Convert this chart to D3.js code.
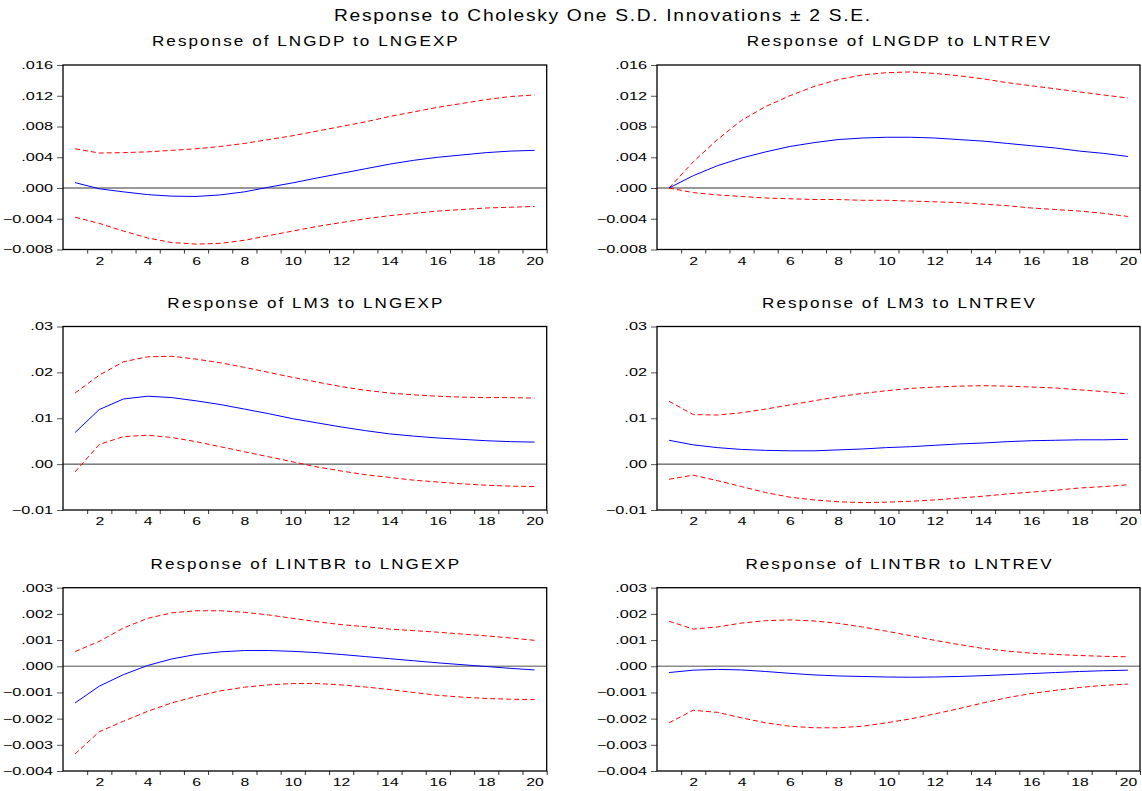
<!DOCTYPE html>
<html>
<head>
<meta charset="utf-8">
<script src="https://cdn.jsdelivr.net/npm/d3@7"></script>
<style>
  html, body { margin: 0; padding: 0; background: #fff; }
  svg { display: block; font-family: "Liberation Sans", Arial, sans-serif; }
</style>
</head>
<body>
<svg id="chart" width="1142" height="791"></svg>
<script>
// Impulse responses over 20 periods: response, and the +/- 2 S.E. bands
const periods = d3.range(1, 21);
const xTickLabels = [2, 4, 6, 8, 10, 12, 14, 16, 18, 20];

const gdpGexpResp = [0.0007, -0.0001, -0.0005, -0.00086, -0.00106, -0.0011, -0.0009, -0.0005, 0.0001, 0.00067,
  0.0013, 0.0019, 0.0025, 0.0031, 0.0036, 0.0040, 0.0043, 0.0046, 0.0048, 0.0049];
const gdpGexpUpper = [0.0051, 0.00455, 0.0046, 0.0047, 0.0049, 0.0051, 0.0054, 0.0058, 0.0063, 0.0068,
  0.0074, 0.0080, 0.0086, 0.0093, 0.0099, 0.0105, 0.0110, 0.0115, 0.0119, 0.0121];
const gdpGexpLower = [-0.0038, -0.0046, -0.0056, -0.0065, -0.0071, -0.0073, -0.0072, -0.0068, -0.0062, -0.0056,
  -0.0050, -0.0045, -0.0040, -0.0036, -0.0033, -0.0030, -0.0028, -0.0026, -0.0025, -0.0024];

const gdpTrevResp = [0.0, 0.0016, 0.0029, 0.0039, 0.0047, 0.0054, 0.0059, 0.0063, 0.0065, 0.0066,
  0.0066, 0.0065, 0.0063, 0.0061, 0.0058, 0.0055, 0.0052, 0.0048, 0.0045, 0.0041];
const gdpTrevUpper = [0.0, 0.0034, 0.0063, 0.0088, 0.0106, 0.0120, 0.0132, 0.0141, 0.0147, 0.0150,
  0.0151, 0.0149, 0.0146, 0.0142, 0.0137, 0.0133, 0.0129, 0.0125, 0.0121, 0.0117];
const gdpTrevLower = [0.0, -0.0006, -0.0009, -0.0011, -0.0013, -0.0014, -0.0015, -0.0015, -0.0016, -0.0016,
  -0.0017, -0.0018, -0.0019, -0.0021, -0.0023, -0.0026, -0.0028, -0.0030, -0.0033, -0.0037];

const m3GexpResp = [0.0069, 0.0119, 0.0142, 0.0148, 0.0145, 0.0138, 0.0130, 0.0120, 0.0110, 0.0099,
  0.0090, 0.0081, 0.0073, 0.0066, 0.0061, 0.0057, 0.0054, 0.0051, 0.0049, 0.0048];
const m3GexpUpper = [0.0155, 0.0194, 0.0223, 0.0234, 0.0235, 0.0229, 0.0221, 0.0211, 0.0200, 0.0189,
  0.0179, 0.0169, 0.0161, 0.0155, 0.0151, 0.0148, 0.0146, 0.0145, 0.0145, 0.0144];
const m3GexpLower = [-0.0017, 0.0043, 0.0060, 0.0063, 0.0058, 0.0049, 0.0038, 0.0027, 0.0016, 0.0005,
  -0.0006, -0.0015, -0.0023, -0.0029, -0.0035, -0.0039, -0.0043, -0.0046, -0.0048, -0.0049];

const m3TrevResp = [0.0052, 0.0042, 0.0036, 0.0032, 0.0030, 0.0029, 0.0029, 0.0031, 0.0033, 0.0036,
  0.0038, 0.0041, 0.0044, 0.0046, 0.0049, 0.0051, 0.0052, 0.0053, 0.0053, 0.0054];
const m3TrevUpper = [0.0137, 0.0108, 0.0107, 0.0112, 0.0120, 0.0129, 0.0138, 0.0147, 0.0154, 0.0160,
  0.0165, 0.0168, 0.0170, 0.0171, 0.0170, 0.0168, 0.0166, 0.0162, 0.0158, 0.0153];
const m3TrevLower = [-0.0033, -0.0024, -0.0036, -0.0049, -0.0062, -0.0072, -0.0078, -0.0082, -0.0084, -0.0083,
  -0.0081, -0.0078, -0.0074, -0.0070, -0.0065, -0.0061, -0.0057, -0.0052, -0.0049, -0.0045];

const intGexpResp = [-0.0014, -0.00076, -0.00032, 0.00003, 0.00028, 0.00045, 0.00055, 0.0006, 0.0006, 0.00057,
  0.00052, 0.00045, 0.00037, 0.00029, 0.00021, 0.00013, 0.00006, -0.00001, -0.00008, -0.00014];
const intGexpUpper = [0.00056, 0.00095, 0.00146, 0.00183, 0.00204, 0.00212, 0.00212, 0.00206, 0.00196, 0.00183,
  0.0017, 0.00159, 0.00151, 0.00142, 0.00136, 0.0013, 0.00123, 0.00116, 0.00108, 0.00099];
const intGexpLower = [-0.00335, -0.0025, -0.0021, -0.00172, -0.0014, -0.00115, -0.00094, -0.0008, -0.00071, -0.00066,
  -0.00066, -0.00071, -0.00079, -0.00089, -0.001, -0.00111, -0.00118, -0.00123, -0.00126, -0.00127];

const intTrevResp = [-0.00024, -0.00015, -0.00012, -0.00014, -0.0002, -0.00027, -0.00033, -0.00037, -0.00039, -0.00041,
  -0.00042, -0.00041, -0.00039, -0.00036, -0.00032, -0.00028, -0.00024, -0.0002, -0.00017, -0.00015];
const intTrevUpper = [0.00172, 0.00142, 0.0015, 0.00165, 0.00174, 0.00177, 0.00173, 0.00164, 0.0015, 0.00134,
  0.00117, 0.00099, 0.00083, 0.00068, 0.00058, 0.00050, 0.00045, 0.00041, 0.00038, 0.00036];
const intTrevLower = [-0.00216, -0.00168, -0.00176, -0.00197, -0.00216, -0.00229, -0.00235, -0.00235, -0.00229, -0.00216,
  -0.00201, -0.00182, -0.00162, -0.0014, -0.0012, -0.00104, -0.00092, -0.00081, -0.00073, -0.00068];

const yTicksGdp = [-0.008, -0.004, 0.000, 0.004, 0.008, 0.012, 0.016];
const yTicksM3 = [-0.01, 0.00, 0.01, 0.02, 0.03];
const yTicksInt = [-0.004, -0.003, -0.002, -0.001, 0.000, 0.001, 0.002, 0.003];

const mainTitle = "Response to Cholesky One S.D. Innovations \u00b1 2 S.E.";

// Panel grid: two columns, three rows
const colX = [[63, 546.7], [657, 1140]];
const rowY = [[65, 249.5], [326.5, 510], [587.7, 771]];

const panels = [
  { title: "Response of LNGDP to LNGEXP", col: 0, row: 0, resp: gdpGexpResp, up: gdpGexpUpper, lo: gdpGexpLower, ticks: yTicksGdp, dec: 3 },
  { title: "Response of LNGDP to LNTREV", col: 1, row: 0, resp: gdpTrevResp, up: gdpTrevUpper, lo: gdpTrevLower, ticks: yTicksGdp, dec: 3 },
  { title: "Response of LM3 to LNGEXP", col: 0, row: 1, resp: m3GexpResp, up: m3GexpUpper, lo: m3GexpLower, ticks: yTicksM3, dec: 2 },
  { title: "Response of LM3 to LNTREV", col: 1, row: 1, resp: m3TrevResp, up: m3TrevUpper, lo: m3TrevLower, ticks: yTicksM3, dec: 2 },
  { title: "Response of LINTBR to LNGEXP", col: 0, row: 2, resp: intGexpResp, up: intGexpUpper, lo: intGexpLower, ticks: yTicksInt, dec: 3 },
  { title: "Response of LINTBR to LNTREV", col: 1, row: 2, resp: intTrevResp, up: intTrevUpper, lo: intTrevLower, ticks: yTicksInt, dec: 3 }
];

const svg = d3.select("#chart");

// Widen lettering: either stretch glyphs or open up the spacing
function widen(sel, factor, mode) {
  sel.each(function () {
    const w = this.getComputedTextLength();
    d3.select(this).attr("textLength", w * factor).attr("lengthAdjust", mode || "spacingAndGlyphs");
  });
}

// Heading with slightly broadened glyphs plus opened spacing
function heading(parent, cx, cy, size, str, glyphScale, totalFactor) {
  const t = parent.append("text")
    .attr("transform", `translate(${cx},${cy}) scale(${glyphScale},1)`)
    .attr("text-anchor", "middle")
    .attr("font-size", size)
    .attr("fill", "#000")
    .text(str);
  widen(t, totalFactor / glyphScale, "spacing");
  return t;
}

const fmt = dec => v => {
  const s = d3.format("." + dec + "f")(Math.abs(v) < 1e-12 ? 0 : v);
  return s.replace(/^(-?)0\./, "$1.");
};

heading(svg, 602, 21, 16, mainTitle, 1.2, 1.42);

panels.forEach(p => {
  const [x0, x1] = colX[p.col];
  const [y0, y1] = rowY[p.row];
  const x = d3.scaleLinear().domain([0.5, 20.5]).range([x0, x1]);
  const y = d3.scaleLinear().domain(d3.extent(p.ticks)).range([y1, y0]);
  const g = svg.append("g");

  heading(g, (x0 + x1) / 2, y0 - 19, 14, p.title, 1.22, 1.48);

  // y axis: ticks outward on the left
  const yAxis = d3.axisLeft(y).tickValues(p.ticks).tickFormat(fmt(p.dec)).tickSize(6).tickPadding(4);
  const ya = g.append("g").attr("transform", `translate(${x0},0)`).call(yAxis);
  ya.select(".domain").remove();
  ya.selectAll(".tick line").attr("stroke", "#555");
  ya.selectAll(".tick text")
    .attr("font-size", 10.5).attr("fill", "#000")
    .attr("font-family", "Liberation Sans, Arial, sans-serif")
    .call(widen, 1.55);

  // x axis: ticks between periods, labels on even periods
  const xTickAxis = d3.axisBottom(x).tickValues(periods.map(d => d + 0.5)).tickSize(4).tickFormat("");
  const xa = g.append("g").attr("transform", `translate(0,${y1})`).call(xTickAxis);
  xa.select(".domain").remove();
  xa.selectAll(".tick line").attr("stroke", "#333");

  const xLab = d3.axisBottom(x).tickValues(xTickLabels).tickSize(0).tickPadding(8).tickFormat(d3.format("d"));
  const xl = g.append("g").attr("transform", `translate(0,${y1})`).call(xLab);
  xl.select(".domain").remove();
  xl.selectAll(".tick text")
    .attr("font-size", 10.5).attr("fill", "#000")
    .attr("font-family", "Liberation Sans, Arial, sans-serif")
    .call(widen, 1.5);

  // zero reference line
  g.append("line")
    .attr("x1", x0).attr("x2", x1)
    .attr("y1", y(0)).attr("y2", y(0))
    .attr("stroke", p.row === 2 ? "#8a8a8a" : "#333")
    .attr("stroke-width", p.row === 2 ? 1.6 : 1);

  const line = d3.line().x((d, i) => x(periods[i])).y(d => y(d));

  [p.up, p.lo].forEach(band => {
    g.append("path")
      .attr("d", line(band))
      .attr("fill", "none")
      .attr("stroke", "#ff0000")
      .attr("stroke-width", 1)
      .attr("stroke-dasharray", "5,3");
  });

  g.append("path")
    .attr("d", line(p.resp))
    .attr("fill", "none")
    .attr("stroke", "#0000ff")
    .attr("stroke-width", 1);

  // frame
  g.append("rect")
    .attr("x", x0).attr("y", y0)
    .attr("width", x1 - x0).attr("height", y1 - y0)
    .attr("fill", "none")
    .attr("stroke", "#000")
    .attr("stroke-width", 1.3);
});
</script>
</body>
</html>
